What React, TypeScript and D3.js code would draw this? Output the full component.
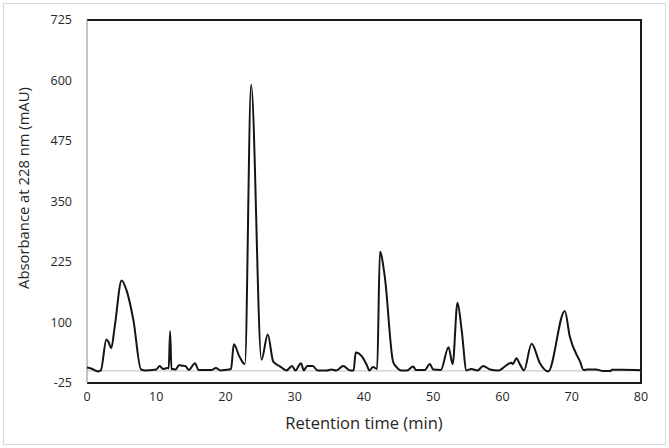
import { useRef, useEffect } from "react";
import * as d3 from "d3";

// retention time (min) and absorbance (mAU)
const times = [
  0, 0.6, 1.6, 2.0, 2.8, 3.1, 3.5, 4.0, 5.0, 5.7, 6.7, 7.8, 8.5, 9.5, 10.0, 10.5,
  11.0, 11.6, 11.8, 12.0, 12.2, 12.4, 12.8, 13.3, 13.6, 14.2, 14.7, 15.6, 16.1,
  17.0, 18.0, 18.6, 19.3, 20.0, 20.8, 21.2, 22.0, 22.8, 23.7, 25.2, 26.1, 26.9,
  27.9, 28.8, 29.6, 30.1, 30.9, 31.3, 31.8, 32.6, 33.3, 34.6, 35.3, 36.0, 37.0,
  38.0, 38.5, 38.8, 39.7, 40.4, 40.8, 41.3, 41.9, 42.3, 43.0, 44.2, 44.7, 45.4,
  46.2, 47.1, 47.5, 48.8, 49.5, 50.0, 51.1, 52.2, 52.8, 53.5, 54.1, 54.8, 55.5,
  56.4, 57.2, 58.2, 59.4, 60.6, 61.3, 61.5, 62.0, 62.5, 63.1, 64.2, 65.4, 66.6,
  69.0, 69.7, 71.2, 71.7, 72.3, 73.5, 74.4, 75.6, 75.8, 77.2, 80,
];
const absorbance = [
  7, 5, -1, 1, 65, 60, 47, 91, 187, 167, 105, 3, 1, 2, 3, 10,
  4, 6, 5, 82, 3, 4, 3, 12, 11, 10, 2, 16, 2,
  2, 2, 6, 1, 2, 4, 55, 30, 14, 591, 23, 75, 19,
  9, 1, 10, 1, 16, 1, 10, 10, 1, 1, 3, 1, 10,
  1, 1, 38, 30, 12, 1, 8, 4, 246, 195, 19, 8, 1,
  1, 9, 2, 2, 14, 3, 2, 49, 14, 141, 85, 1, 4,
  1, 10, 3, 1, 12, 17, 14, 26, 14, 1, 56, 16, -1,
  124, 72, 19, 2, 3, 3, 0, 0, 2.5, 2.5, 1.5,
];
const yTicks = [-25, 100, 225, 350, 475, 600, 725];
const xTicks = [0, 10, 20, 30, 40, 50, 60, 70, 80];

const W = 669;
const H = 448;
const margin = { left: 87, right: 28, top: 20, bottom: 65 };

const Chromatogram = () => {
  const svgRef = useRef<SVGSVGElement>(null);

  useEffect(() => {
    const svg = d3.select(svgRef.current);
    svg.selectAll("*").remove();

    const x = d3.scaleLinear().domain([0, 80]).range([margin.left, W - margin.right]);
    const y = d3.scaleLinear().domain([-25, 725]).range([H - margin.bottom, margin.top]);
    const font = "'Open Sans', sans-serif";

    // outer chart border
    svg.append("rect")
      .attr("x", 3.5).attr("y", 3.5)
      .attr("width", W - 7).attr("height", H - 7)
      .attr("fill", "#fff").attr("stroke", "#d9d9d9");

    // plot area frame (top, right, bottom)
    const [x0, x1] = x.range();
    const [yb, yt] = y.range();
    svg.append("path")
      .attr("d", `M${x0},${yt}H${x1}V${yb}H${x0}`)
      .attr("fill", "none").attr("stroke", "#1a1a1a").attr("stroke-width", 2);

    // axis lines at zero
    svg.append("line")
      .attr("x1", x0).attr("x2", x1)
      .attr("y1", y(0)).attr("y2", y(0))
      .attr("stroke", "#bfbfbf").attr("stroke-width", 1);
    svg.append("line")
      .attr("x1", x(0)).attr("x2", x(0))
      .attr("y1", yt).attr("y2", yb)
      .attr("stroke", "#a6a6a6").attr("stroke-width", 1.3);

    // y tick labels
    svg.append("g").selectAll("text")
      .data(yTicks).join("text")
      .attr("x", x0 - 15).attr("y", (d) => y(d))
      .attr("dy", "0.35em").attr("text-anchor", "end")
      .attr("font-family", font).attr("font-size", 12.5).attr("fill", "#262626")
      .text((d) => d);

    // x tick labels
    svg.append("g").selectAll("text")
      .data(xTicks).join("text")
      .attr("x", (d) => x(d)).attr("y", yb + 14)
      .attr("dy", "0.35em").attr("text-anchor", "middle")
      .attr("font-family", font).attr("font-size", 12.5).attr("fill", "#262626")
      .text((d) => d);

    // axis titles
    svg.append("text")
      .attr("x", 364).attr("y", 423)
      .attr("dy", "0.35em").attr("text-anchor", "middle")
      .attr("font-family", font).attr("font-size", 16.5).attr("fill", "#262626")
      .text("Retention time (min)");
    svg.append("text")
      .attr("transform", `translate(24,188) rotate(-90)`)
      .attr("dy", "0.35em").attr("text-anchor", "middle")
      .attr("font-family", font).attr("font-size", 14.8).attr("fill", "#262626")
      .text("Absorbance at 228 nm (mAU)");

    // trace
    const data = times.map((t, i) => [t, absorbance[i]] as [number, number]);
    const line = d3.line<[number, number]>()
      .x((d) => x(d[0]))
      .y((d) => y(d[1]))
      .curve(d3.curveMonotoneX);
    svg.append("path")
      .datum(data)
      .attr("d", line)
      .attr("fill", "none")
      .attr("stroke", "#141414")
      .attr("stroke-width", 2)
      .attr("stroke-linejoin", "round");
  }, []);

  return (
    <div style={{ position: "absolute", left: 0, top: 0 }}>
      <svg ref={svgRef} width={W} height={H} />
    </div>
  );
};

export default function App() {
  return <Chromatogram />;
}
